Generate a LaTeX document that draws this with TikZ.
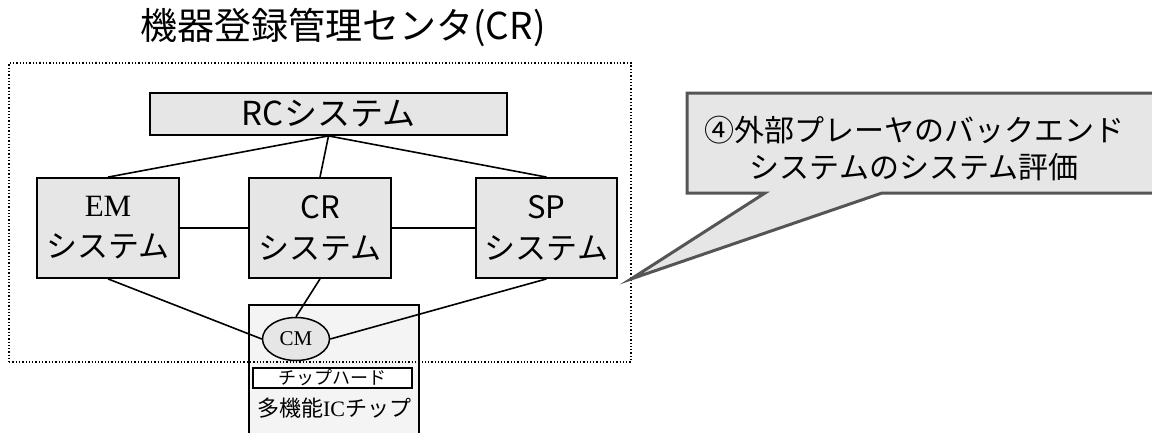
\documentclass[tikz,border=0pt]{standalone}
\usepackage{fontspec}
\setmainfont{Liberation Serif}
\newfontfamily\jp{Noto Sans CJK JP}
\newfontfamily\tms{Liberation Serif}
\usetikzlibrary{shapes.geometric}
\definecolor{boxfill}{HTML}{E6E6E6}
\definecolor{chipfill}{HTML}{F4F4F4}
\definecolor{calloutdraw}{HTML}{555555}
\tikzset{
  sysbox/.style={draw=black, line width=1.8pt, fill=boxfill, inner sep=0pt},
  bigsys/.style={sysbox, minimum width=142pt, minimum height=100pt, align=center, font=\fontsize{31}{41}\selectfont},
  link/.style={draw=black, line width=1.6pt},
}
\begin{document}
\begin{tikzpicture}[x=1pt,y=-1pt]
\useasboundingbox (0,0) rectangle (1152,432);
% title
\node[font=\jp\fontsize{37}{40}\selectfont, anchor=center] (title) at (343,27) {機器登録管理センタ(CR)};
% chip box (behind dotted frame)
\path[fill=chipfill, draw=black, line width=1.5pt] (249,440) -- (249,305) -- (419,305) -- (419,440);
% RC
\node[sysbox, minimum width=357pt, minimum height=42pt, font=\jp\fontsize{33}{34}\selectfont] (rc) at (328.5,114) {RCシステム};
% EM, CR, SP
\node[bigsys] (em) at (108,228) {\tms EM\\\jp システム};
\node[bigsys] (cr) at (320,228) {\jp CR\\\jp システム};
\node[bigsys, minimum width=141pt] (sp) at (546.5,228) {\jp SP\\\jp システム};
% CM ellipse
\node[ellipse, draw=black, line width=1.5pt, fill=boxfill, minimum width=67pt, minimum height=43pt, inner sep=0pt, font=\tms\fontsize{21}{22}\selectfont] (cm) at (296,339) {CM};
% chip hard
\node[draw=black, line width=1.8pt, fill=white, minimum width=159pt, minimum height=20pt, inner sep=0pt, font=\jp\fontsize{18}{20}\selectfont] (hard) at (332.5,378) {チップハード};
\node[font=\fontsize{22}{24}\selectfont, inner sep=0pt] (chiplbl) at (334,408) {\jp 多機能\tms IC\jp チップ};
% links
\draw[link] (rc.south) -- (em.north);
\draw[link] (rc.south) -- (cr.north);
\draw[link] (rc.south) -- (sp.north);
\draw[link] (em.east) -- (cr.west);
\draw[link] (cr.east) -- (sp.west);
\draw[link] (em.south) -- (cm.west);
\draw[link] (cr.south) -- (cm.north);
\draw[link] (sp.south) -- (cm.east);
% dotted frame
\node[draw=black, line width=1.3pt, dotted, minimum width=622pt, minimum height=299pt, inner sep=0pt] (frame) at (320,212.5) {};
% callout
\coordinate (tip) at (631,279);
\path[fill=boxfill, draw=calloutdraw, line width=3pt, line join=miter]
  (1160,93) -- (687,93) -- (687,193) -- (765,193) -- (tip) -- (882,193) -- (1160,193);
\node[font=\jp\fontsize{30}{37}\selectfont, align=center] (callout) at (914,148)
  {④外部プレーヤのバックエンド\\システムのシステム評価};
\end{tikzpicture}
\end{document}
